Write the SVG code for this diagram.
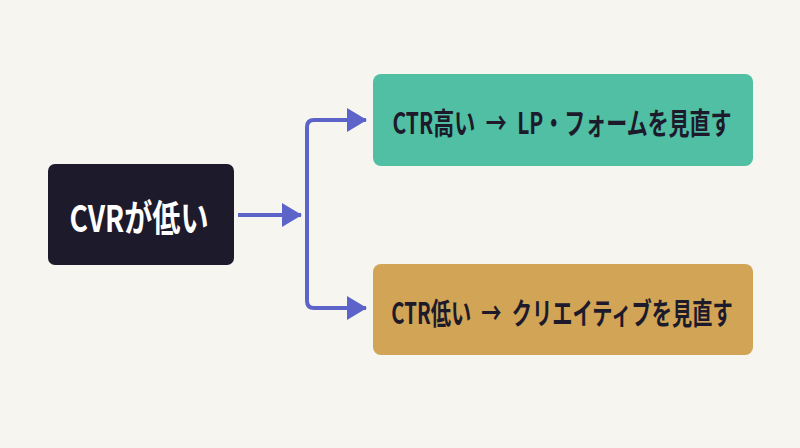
<svg xmlns="http://www.w3.org/2000/svg" width="800" height="448" viewBox="0 0 800 448">
<defs>
<style>
.lbl{font-family:"Noto Sans CJK JP","Noto Sans",sans-serif;font-weight:700;text-anchor:middle;dominant-baseline:central}
.conn{fill:none;stroke:#5c64c9;stroke-width:4;stroke-linejoin:round;stroke-linecap:butt}
</style>
<marker id="ah" viewBox="0 0 20 24" refX="19" refY="12" markerWidth="20" markerHeight="24" markerUnits="userSpaceOnUse" orient="auto">
<path d="M0,0 L20,12 L0,24 Z" fill="#5c64c9"/>
</marker>
</defs>
<rect width="800" height="448" fill="#f7f5f0"/>
<g id="connectors">
<path class="conn" d="M238,215 L301,215" marker-end="url(#ah)"/>
<path class="conn" d="M307,200 L307,301 Q307,308 314,308 L366,308" marker-end="url(#ah)"/>
<path class="conn" d="M307,200 L307,127 Q307,120 314,120 L366,120" marker-end="url(#ah)"/>
</g>
<g id="node-cvr">
<rect x="48" y="164" width="186" height="101" rx="7" fill="#1d1a2b"/>
<text class="lbl" transform="translate(139,216) scale(0.76,1)" x="0" y="0" font-size="37" fill="#ffffff">CVRが低い</text>
</g>
<g id="node-high">
<rect x="373" y="74" width="380" height="92" rx="8" fill="#50bfa3"/>
<text class="lbl" transform="translate(562,121) scale(0.70,1)" x="0" y="0" font-size="30" fill="#1d1a2b">CTR高い&#8194;→&#8194;LP・フォームを見直す</text>
</g>
<g id="node-low">
<rect x="373" y="264" width="380" height="91" rx="8" fill="#d1a456"/>
<text class="lbl" transform="translate(562,311) scale(0.675,1)" x="0" y="0" font-size="30" fill="#1d1a2b">CTR低い&#8194;→&#8194;クリエイティブを見直す</text>
</g>
</svg>
